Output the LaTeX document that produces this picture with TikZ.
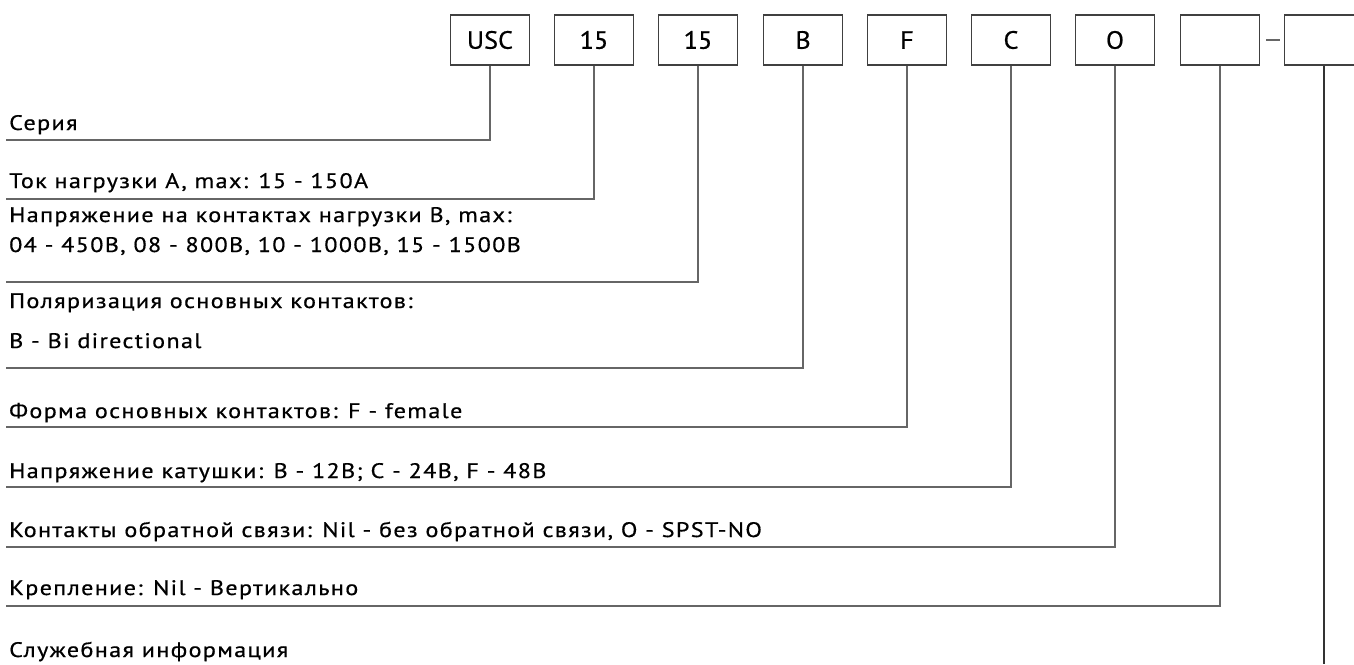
\documentclass[tikz,border=0pt]{standalone}
\usepackage{fontspec}
\setmainfont{PT Sans}[FakeStretch=1.15,LetterSpace=6.5,FakeBold=0.6]
\newfontfamily\boxfont{PT Sans}[FakeStretch=1.05,FakeBold=0.6]
\usepackage{xcolor}
\usetikzlibrary{positioning}

\begin{document}
\begin{tikzpicture}[x=1pt,y=-1pt,
  codebox/.style={draw=black!75,line width=1.3pt,minimum width=79pt,minimum height=50pt,
    inner sep=0pt,font=\boxfont\fontsize{25}{25}\selectfont},
  lbl/.style={anchor=base west,inner sep=0pt,font=\fontsize{21}{21}\selectfont},
  lead/.style={draw=black!60,line width=1.4pt}]
  \useasboundingbox (0,0) rectangle (1354,664);
  % code boxes
  \node[codebox] (usc)  at (490,40)  {USC};
  \node[codebox] (cur)  at (594,40)  {15};
  \node[codebox] (volt) at (698,40)  {15};
  \node[codebox] (pol)  at (803,40)  {B};
  \node[codebox] (form) at (907,40)  {F};
  \node[codebox] (coil) at (1011,40) {C};
  \node[codebox] (fb)   at (1115,40) {O};
  \node[codebox] (mnt)  at (1220,40) {};
  \node[codebox] (svc)  at (1324,40) {};
  \draw[lead,shorten <=6pt,shorten >=4pt] (mnt.east) -- (svc.west);
  % labels
  \node[lbl] (t1)  at (9,130) {Серия};
  \node[lbl] (t2)  at (9,188) {Ток нагрузки А, max: 15 - 150А};
  \node[lbl] (t3a) at (9,222) {Напряжение на контактах нагрузки В, max:};
  \node[lbl] (t3b) at (9,252) {04 - 450В, 08 - 800В, 10 - 1000В, 15 - 1500В};
  \node[lbl] (t4a) at (9,308) {Поляризация основных контактов:};
  \node[lbl] (t4b) at (9,348) {B - Bi directional};
  \node[lbl] (t5)  at (9,418) {Форма основных контактов: F - female};
  \node[lbl] (t6)  at (9,478) {Напряжение катушки: B - 12В; C - 24В, F - 48В};
  \node[lbl] (t7)  at (9,537) {Контакты обратной связи: Nil - без обратной связи, O - SPST-NO};
  \node[lbl] (t8)  at (9,595) {Крепление: Nil - Вертикально};
  \node[lbl] (t9)  at (9,657) {Служебная информация};
  % leader ends
  \coordinate (e1) at (6,140);
  \coordinate (e2) at (6,199);
  \coordinate (e3) at (6,282);
  \coordinate (e4) at (6,368);
  \coordinate (e5) at (6,427);
  \coordinate (e6) at (6,487);
  \coordinate (e7) at (6,547);
  \coordinate (e8) at (6,606);
  \coordinate (e9) at (1324,664);
  \draw[lead] (usc.south)  |- (e1);
  \draw[lead] (cur.south)  |- (e2);
  \draw[lead] (volt.south) |- (e3);
  \draw[lead] (pol.south)  |- (e4);
  \draw[lead] (form.south) |- (e5);
  \draw[lead] (coil.south) |- (e6);
  \draw[lead] (fb.south)   |- (e7);
  \draw[lead] (mnt.south)  |- (e8);
  \draw[lead,draw=black!80] (svc.south) -- (e9);
\end{tikzpicture}
\end{document}
